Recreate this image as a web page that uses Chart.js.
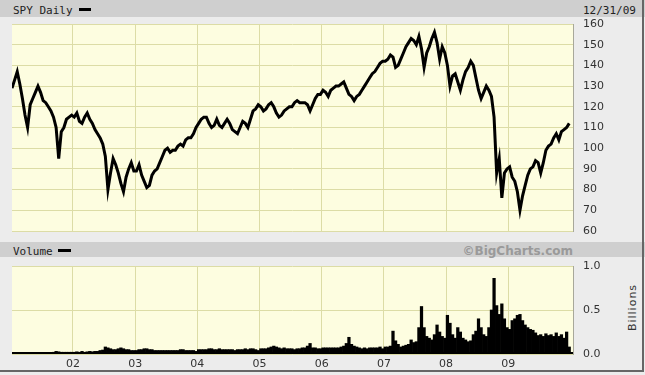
<!DOCTYPE html>
<html>
<head>
<meta charset="utf-8">
<script src="https://cdn.jsdelivr.net/npm/chart.js@4.4.1/dist/chart.umd.min.js"></script>
<style>
  body { margin: 0; background: #ececec; }
  #wrap { position: relative; width: 645px; height: 375px; overflow: hidden; background: #ececec; }
  .bar { position: absolute; left: 0; width: 645px; background: #cfcfcf; }
  .lbl { position: absolute; white-space: nowrap; line-height: 11px; font: 11px 'DejaVu Sans Mono', monospace; color: #222; }
  .dash { position: absolute; height: 3px; background: #000; }
  canvas { position: absolute; left: 0; top: 0; }
  #frame { position: absolute; left: 0; top: 0; width: 642px; height: 370px; border-right: 2px solid #666; border-bottom: 2px solid #666; }
</style>
</head>
<body>
<div id="wrap">
  <div class="bar" style="top:0;height:17px"></div>
  <div class="bar" style="top:242px;height:15px"></div>
  <div class="lbl" style="left:13px;top:4px">SPY Daily</div>
  <div class="dash" style="left:79px;top:8px;width:12px"></div>
  <div class="lbl" style="left:583px;top:4px">12/31/09</div>
  <div class="lbl" style="left:13px;top:245px">Volume</div>
  <div class="dash" style="left:58px;top:249px;width:13px"></div>
  <div class="lbl" style="right:72px;top:244px;font:bold 12px 'DejaVu Sans',sans-serif;color:#9a9a9a">©BigCharts.com</div>
  <div class="lbl" style="left:604px;top:301px;width:56px;text-align:center;transform:rotate(-90deg);font:11px 'DejaVu Sans',sans-serif;letter-spacing:1px;color:#333">Billions</div>
  <canvas id="priceChart" width="645" height="375"></canvas>
  <canvas id="volChart" width="645" height="375"></canvas>
  <div id="frame"></div>
</div>
<script>
const years = [2001, 2002, 2003, 2004, 2005, 2006, 2007, 2008, 2009];
const p2001 = [129, 133, 137, 131, 124, 116, 110, 121, 124, 127, 130, 127, 123, 122, 120, 118, 115, 110, 95, 108, 110, 114, 115, 116];
const p2002 = [115, 117, 113, 112, 115, 117, 114, 112, 109, 107, 105, 102, 96, 80, 88, 95, 92, 88, 83, 79, 86, 90, 93, 89];
const p2003 = [89, 92, 87, 84, 81, 82, 87, 89, 90, 93, 96, 99, 100, 98, 99, 99, 101, 102, 101, 104, 105, 105, 107, 110];
const p2004 = [112, 114, 115, 115, 112, 110, 111, 114, 111, 110, 112, 114, 112, 109, 108, 107, 110, 113, 112, 110, 114, 118, 119, 121];
const p2005 = [120, 118, 119, 121, 122, 120, 117, 115, 116, 118, 119, 120, 120, 122, 123, 122, 122, 122, 121, 118, 121, 124, 126, 126];
const p2006 = [128, 127, 125, 128, 129, 130, 130, 131, 132, 129, 126, 125, 123, 125, 126, 128, 130, 132, 134, 136, 137, 139, 141, 142];
const p2007 = [142, 143, 145, 144, 139, 140, 143, 146, 149, 151, 153, 152, 150, 154, 148, 139, 146, 149, 153, 156, 151, 143, 149, 146];
const p2008 = [140, 130, 135, 136, 132, 128, 133, 137, 139, 142, 140, 134, 128, 124, 127, 130, 128, 125, 115, 88, 95, 76, 88, 90];
const p2009 = [91, 86, 84, 79, 70, 77, 82, 87, 90, 91, 94, 93, 88, 93, 99, 101, 102, 105, 107, 104, 108, 109, 110, 112];

// volume in billions, same sampling
const v2001 = [0.01, 0.01, 0.01, 0.01, 0.01, 0.01, 0.01, 0.01, 0.01, 0.01, 0.01, 0.01, 0.01, 0.01, 0.01, 0.01, 0.02, 0.03, 0.025, 0.02, 0.02, 0.02, 0.02, 0.02];
const v2002 = [0.02, 0.025, 0.02, 0.03, 0.02, 0.025, 0.03, 0.025, 0.03, 0.03, 0.04, 0.045, 0.08, 0.07, 0.06, 0.05, 0.05, 0.06, 0.07, 0.06, 0.05, 0.05, 0.04, 0.04];
const v2003 = [0.04, 0.05, 0.05, 0.06, 0.06, 0.05, 0.05, 0.04, 0.04, 0.04, 0.04, 0.04, 0.04, 0.04, 0.04, 0.04, 0.04, 0.05, 0.05, 0.04, 0.04, 0.04, 0.04, 0.03];
const v2004 = [0.05, 0.05, 0.05, 0.05, 0.06, 0.06, 0.05, 0.05, 0.06, 0.05, 0.05, 0.05, 0.05, 0.05, 0.04, 0.05, 0.05, 0.05, 0.06, 0.05, 0.06, 0.06, 0.05, 0.04];
const v2005 = [0.06, 0.06, 0.06, 0.07, 0.08, 0.09, 0.08, 0.07, 0.06, 0.07, 0.06, 0.06, 0.06, 0.05, 0.06, 0.06, 0.07, 0.07, 0.09, 0.12, 0.07, 0.07, 0.06, 0.06];
const v2006 = [0.07, 0.07, 0.07, 0.07, 0.07, 0.07, 0.07, 0.08, 0.09, 0.12, 0.19, 0.11, 0.09, 0.08, 0.07, 0.06, 0.07, 0.06, 0.07, 0.07, 0.07, 0.07, 0.08, 0.06];
const v2007 = [0.08, 0.08, 0.09, 0.26, 0.15, 0.11, 0.08, 0.09, 0.10, 0.11, 0.16, 0.13, 0.14, 0.30, 0.54, 0.30, 0.20, 0.18, 0.16, 0.22, 0.33, 0.25, 0.20, 0.18];
const v2008 = [0.44, 0.35, 0.22, 0.18, 0.30, 0.25, 0.18, 0.16, 0.14, 0.15, 0.22, 0.26, 0.40, 0.30, 0.22, 0.20, 0.30, 0.50, 0.86, 0.55, 0.45, 0.57, 0.40, 0.30];
const v2009 = [0.28, 0.38, 0.40, 0.44, 0.45, 0.38, 0.33, 0.30, 0.28, 0.27, 0.24, 0.21, 0.22, 0.20, 0.23, 0.21, 0.22, 0.20, 0.24, 0.20, 0.22, 0.18, 0.25, 0.08];

const priceTicks = [60, 70, 80, 90, 100, 110, 120, 130, 140, 150, 160];
const volTicks = [0, 0.5, 1.0];
const yearTicks = [2002, 2003, 2004, 2005, 2006, 2007, 2008, 2009];

const prices = [p2001, p2002, p2003, p2004, p2005, p2006, p2007, p2008, p2009];
const volumes = [v2001, v2002, v2003, v2004, v2005, v2006, v2007, v2008, v2009];

// x position of each sample = year + half-month slot
const pricePts = [], volPts = [];
years.forEach((yr, k) => {
  prices[k].forEach((v, i) => pricePts.push({ x: yr + (i + 0.5) / 24, y: v }));
  volumes[k].forEach((v, i) => volPts.push({ x: yr + (i + 0.5) / 24, y: v }));
});

Chart.defaults.font.family = "'DejaVu Sans', sans-serif";
Chart.defaults.font.size = 11;
Chart.defaults.color = '#333';

const gridColor = '#dcdca6';
const X_MIN = 2001.02, X_MAX = 2010.04;

const plotBg = {
  id: 'plotBg',
  beforeDraw(chart) {
    const a = chart.chartArea, c = chart.ctx;
    c.save();
    c.fillStyle = '#fdfde0';
    c.fillRect(a.left, a.top, a.right - a.left, a.bottom - a.top);
    c.restore();
  }
};

function yearAxis(showLabels, height) {
  return {
    type: 'linear',
    min: X_MIN,
    max: X_MAX,
    offset: false,
    afterBuildTicks: s => { s.ticks = yearTicks.map(v => ({ value: v })); },
    afterFit: s => { s.height = height; },
    grid: { color: gridColor, drawTicks: false, offset: false },
    border: { display: false },
    ticks: {
      display: showLabels,
      padding: 4,
      maxRotation: 0,
      autoSkip: false,
      callback: v => String(v).slice(2)
    }
  };
}

// price panel
new Chart(document.getElementById('priceChart'), {
  type: 'line',
  data: {
    datasets: [{
      data: pricePts,
      borderColor: '#000',
      borderWidth: 3,
      pointRadius: 0,
      tension: 0
    }]
  },
  options: {
    responsive: false,
    animation: false,
    layout: { padding: { left: 12, top: 24, right: 0, bottom: 144 } },
    scales: {
      x: yearAxis(false, 0),
      y: {
        position: 'right',
        min: 60,
        max: 160,
        afterBuildTicks: s => { s.ticks = priceTicks.map(v => ({ value: v })); },
        afterFit: s => { s.width = 72; },
        grid: { color: gridColor, drawTicks: false },
        border: { color: '#a8a89a', width: 1 },
        ticks: { padding: 10 }
      }
    },
    plugins: { legend: { display: false }, tooltip: { enabled: false } }
  },
  plugins: [plotBg]
});

// volume panel
new Chart(document.getElementById('volChart'), {
  type: 'bar',
  data: {
    datasets: [{
      data: volPts,
      backgroundColor: '#000',
      barPercentage: 1,
      categoryPercentage: 1
    }]
  },
  options: {
    responsive: false,
    animation: false,
    layout: { padding: { left: 12, top: 266, right: 0, bottom: 0 } },
    scales: {
      x: yearAxis(true, 21),
      y: {
        position: 'right',
        min: 0,
        max: 1,
        afterBuildTicks: s => { s.ticks = volTicks.map(v => ({ value: v })); },
        afterFit: s => { s.width = 72; },
        grid: { color: gridColor, drawTicks: false },
        border: { color: '#a8a89a', width: 1 },
        ticks: { padding: 10, callback: v => v.toFixed(1) }
      }
    },
    plugins: { legend: { display: false }, tooltip: { enabled: false } }
  },
  plugins: [plotBg, {
    id: 'baseline',
    afterDatasetsDraw(chart) {
      const a = chart.chartArea, c = chart.ctx;
      c.save();
      c.fillStyle = '#000';
      c.fillRect(a.left, a.bottom - 2, a.right - a.left, 2);
      c.restore();
    }
  }]
});
</script>
</body>
</html>
